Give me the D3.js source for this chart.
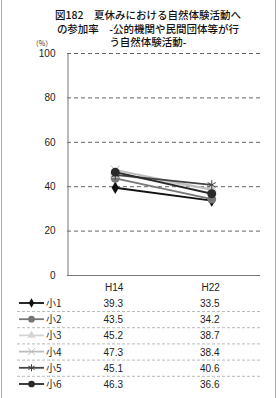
<!DOCTYPE html>
<html>
<head>
<meta charset="utf-8">
<script src="https://cdn.jsdelivr.net/npm/d3@7"></script>
<style>
body { margin: 0; background: #fff; }
svg { font-family: "Noto Sans CJK JP", "DejaVu Sans", sans-serif; }
</style>
</head>
<body>
<svg id="chart"></svg>
<script>
// values
let years = ["H14", "H22"]
let grades = ["小1", "小2", "小3", "小4", "小5", "小6"]
let values = [
    [39.3, 33.5],
    [43.5, 34.2],
    [45.2, 38.7],
    [47.3, 38.4],
    [45.1, 40.6],
    [46.3, 36.6]
]
let yTicks = [0, 20, 40, 60, 80, 100]
let titleLines = ["図182　夏休みにおける自然体験活動へ", "の参加率　-公的機関や民間団体等が行", "う自然体験活動-"]

let colors = ["#111", "#777", "#d4d4d4", "#bdbdbd", "#444", "#2a2a2a"]
let shapes = ["diamond", "circle", "triangle", "cross", "star", "circle"]

let width = 279, height = 398
let plotLeft = 67, plotRight = 260, plotTop = 53, plotBottom = 275

let svg = d3.select("#chart").attr("width", width).attr("height", height)

// frame
svg.append("line").attr("x1", 1.5).attr("x2", 1.5).attr("y1", 0).attr("y2", height).attr("stroke", "#aaa")
svg.append("line").attr("x1", 275.5).attr("x2", 275.5).attr("y1", 0).attr("y2", height).attr("stroke", "#aaa")

svg.selectAll("text.title")
    .data(titleLines)
    .enter().append("text")
    .attr("class", "title")
    .attr("x", 148)
    .attr("y", (d, i) => 19 + i * 13.5)
    .attr("text-anchor", "middle")
    .attr("font-size", 10.5)
    .attr("font-weight", 500)
    .attr("fill", "#111")
    .text(d => d)

svg.append("text").attr("x", 42).attr("y", 46).attr("text-anchor", "middle")
    .attr("font-size", 7).attr("fill", "#333").text("（%）")

let x = d3.scalePoint().domain(years).range([plotLeft, plotRight]).padding(0.5)
let y = d3.scaleLinear().domain([0, 100]).range([plotBottom, plotTop])

// grid
svg.selectAll("line.grid")
    .data(yTicks.filter(d => d > 0))
    .enter().append("line")
    .attr("class", "grid")
    .attr("x1", plotLeft).attr("x2", plotRight)
    .attr("y1", d => y(d) + 0.5).attr("y2", d => y(d) + 0.5)
    .attr("stroke", "#666")
    .attr("stroke-dasharray", "4,3")

let yAxis = d3.axisLeft(y).tickValues(yTicks).tickSize(0).tickPadding(12)
let gy = svg.append("g").attr("transform", "translate(" + (plotLeft + 0.5) + ",0)").call(yAxis)
gy.select(".domain").attr("stroke", "#777")
gy.selectAll("text").attr("font-size", 10).attr("fill", "#222").attr("font-family", "Arial, Liberation Sans, sans-serif")

svg.append("line").attr("x1", plotLeft).attr("x2", plotRight).attr("y1", plotBottom + 0.5).attr("y2", plotBottom + 0.5).attr("stroke", "#777")

svg.selectAll("text.year")
    .data(years)
    .enter().append("text")
    .attr("class", "year")
    .attr("x", d => x(d) - 1)
    .attr("y", 291)
    .attr("text-anchor", "middle")
    .attr("font-size", 10)
    .attr("font-family", "Arial, Liberation Sans, sans-serif")
    .attr("fill", "#222")
    .text(d => d)

function marker(g, shape, color, size) {
    if (shape == "diamond") {
        g.append("path").attr("d", d3.symbol(d3.symbolDiamond, size * 1.6)()).attr("fill", color)
    } else if (shape == "circle") {
        g.append("path").attr("d", d3.symbol(d3.symbolCircle, size * 2.2)()).attr("fill", color)
    } else if (shape == "triangle") {
        g.append("path").attr("d", d3.symbol(d3.symbolTriangle, size * 1.8)()).attr("fill", color)
    } else if (shape == "cross") {
        g.append("path").attr("d", d3.symbol(d3.symbolX, size * 2)()).attr("fill", "none").attr("stroke", color).attr("stroke-width", 1)
    } else {
        g.append("path").attr("d", d3.symbol(d3.symbolAsterisk, size * 2.2)()).attr("fill", "none").attr("stroke", color).attr("stroke-width", 1)
    }
}

let line = d3.line().x((d, i) => x(years[i])).y(d => y(d))

grades.forEach(function(gr, k) {
    svg.append("path")
        .attr("d", line(values[k]))
        .attr("fill", "none")
        .attr("stroke", colors[k])
        .attr("stroke-width", 1.8)
    values[k].forEach(function(v, i) {
        let g = svg.append("g").attr("transform", "translate(" + x(years[i]) + "," + y(v) + ")")
        marker(g, shapes[k], colors[k], 28)
    })
})

// data table
let rowY = d3.scaleLinear().domain([0, 5]).range([303, 384])

grades.forEach(function(gr, k) {
    let cy = rowY(k)
    svg.append("line").attr("x1", 19).attr("x2", 44).attr("y1", cy).attr("y2", cy)
        .attr("stroke", colors[k]).attr("stroke-width", 1.8)
    let g = svg.append("g").attr("transform", "translate(31.5," + cy + ")")
    marker(g, shapes[k], colors[k], 16)
    svg.append("text").attr("x", 46).attr("y", cy + 4).attr("font-size", 10).attr("fill", "#222").text(gr)
    values[k].forEach(function(v, i) {
        svg.append("text")
            .attr("x", x(years[i]) - 2)
            .attr("y", cy + 4)
            .attr("text-anchor", "middle")
            .attr("font-size", 10)
            .attr("font-family", "Arial, Liberation Sans, sans-serif")
            .attr("fill", "#222")
            .text(v.toFixed(1))
    })
    if (k < grades.length - 1) {
        svg.append("line").attr("x1", 17).attr("x2", plotRight)
            .attr("y1", cy + 8.5).attr("y2", cy + 8.5)
            .attr("stroke", "#bbb").attr("stroke-dasharray", "3,2")
    }
})
</script>
</body>
</html>
